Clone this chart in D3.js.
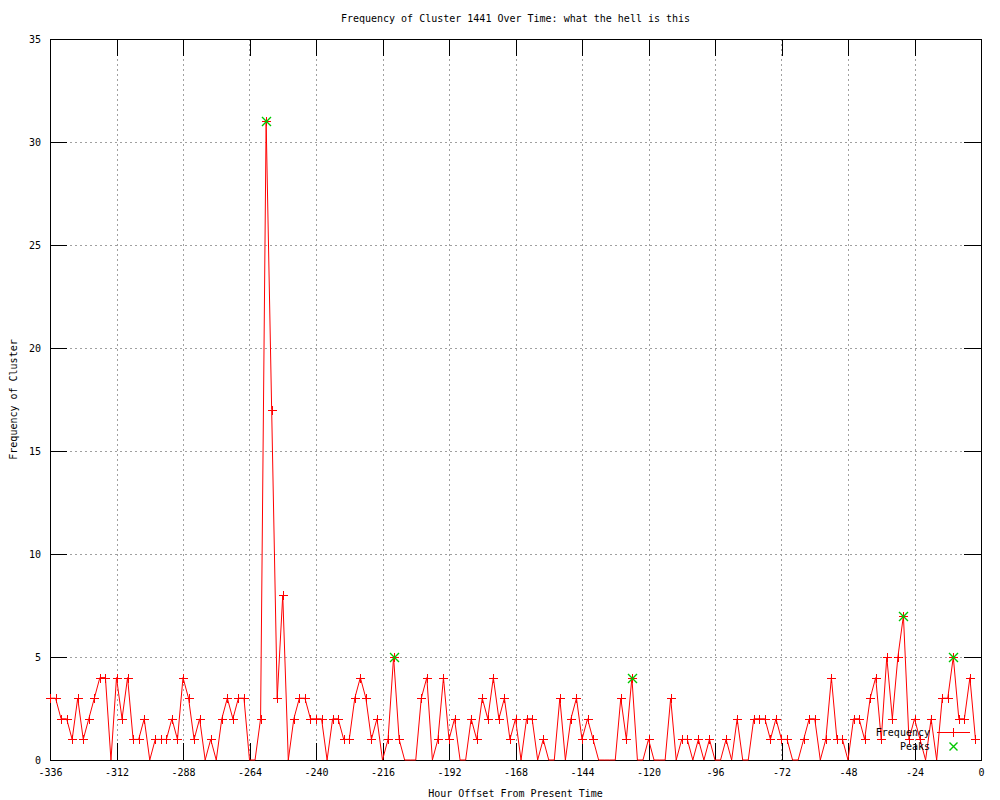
<!DOCTYPE html>
<html>
<head>
<meta charset="utf-8">
<script src="https://cdn.jsdelivr.net/npm/d3@7/dist/d3.min.js"></script>
</head>
<body style="overflow: hidden; padding: 0; margin: 0; background: #fff;">
<script>

    const width = 1000;
    const height = 800;

    // hour offsets, one sample every 2 hours
    const hours = [
      -336,-334,-332,-330,-328,-326,-324,-322,-320,-318,-316,-314,-312,-310,-308,-306,-304,-302,-300,-298,
      -296,-294,-292,-290,-288,-286,-284,-282,-280,-278,-276,-274,-272,-270,-268,-266,-264,-262,-260,-258,
      -256,-254,-252,-250,-248,-246,-244,-242,-240,-238,-236,-234,-232,-230,-228,-226,-224,-222,-220,-218,
      -216,-214,-212,-210,-208,-206,-204,-202,-200,-198,-196,-194,-192,-190,-188,-186,-184,-182,-180,-178,
      -176,-174,-172,-170,-168,-166,-164,-162,-160,-158,-156,-154,-152,-150,-148,-146,-144,-142,-140,-138,
      -136,-134,-132,-130,-128,-126,-124,-122,-120,-118,-116,-114,-112,-110,-108,-106,-104,-102,-100,-98,
      -96,-94,-92,-90,-88,-86,-84,-82,-80,-78,-76,-74,-72,-70,-68,-66,-64,-62,-60,-58,
      -56,-54,-52,-50,-48,-46,-44,-42,-40,-38,-36,-34,-32,-30,-28,-26,-24,-22,-20,-18,
      -16,-14,-12,-10,-8,-6,-4,-2
    ];

    const frequency = [
      3,3,2,2,1,3,1,2,3,4,4,0,4,2,4,1,1,2,0,1,
      1,1,2,1,4,3,1,2,0,1,0,2,3,2,3,3,0,0,2,31,
      17,3,8,0,2,3,3,2,2,2,0,2,2,1,1,3,4,3,1,2,
      0,1,5,1,0,0,0,3,4,0,1,4,1,2,0,0,2,1,3,2,
      4,2,3,1,2,0,2,2,0,1,0,0,3,0,2,3,1,2,1,0,
      0,0,0,3,1,4,0,0,1,0,0,0,3,0,1,1,0,1,0,1,
      0,0,1,0,2,0,0,2,2,2,1,2,1,1,0,0,1,2,2,0,
      1,4,1,1,0,2,2,1,3,4,1,5,2,5,7,1,2,1,0,2,
      0,3,3,5,2,2,4,1
    ];

    const peakHours = [-258, -212, -126, -28, -10];
    const peakValues = [31, 5, 4, 7, 5];

    const xTicks = [-336,-312,-288,-264,-240,-216,-192,-168,-144,-120,-96,-72,-48,-24,0];
    const yTicks = [0,5,10,15,20,25,30,35];

    const title = "Frequency of Cluster 1441 Over Time: what the hell is this";
    const xTitle = "Hour Offset From Present Time";
    const yTitle = "Frequency of Cluster";

    const plotL = 50, plotR = 981, plotT = 39, plotB = 760;
    const tick = 17;
    const font = "'DejaVu Sans Mono', monospace";

    const x = d3.scaleLinear().domain([-336, 0]).range([plotL, plotR]);
    const y = d3.scaleLinear().domain([0, 35]).range([plotB, plotT]);

    const svg = d3.select("body").append("svg")
      .attr("width", width)
      .attr("height", height)
      .style("font-family", font)
      .style("font-size", "10px");

    const data = hours.map((h, i) => ({h: h, v: frequency[i]}));
    const peaks = peakHours.map((h, i) => ({h: h, v: peakValues[i]}));

    // dotted grid
    const grid = svg.append("g")
      .attr("stroke", "#a0a0a0")
      .attr("stroke-dasharray", "2,3")
      .attr("shape-rendering", "crispEdges");
    grid.selectAll(".gx")
      .data(xTicks.slice(1, -1))
      .enter().append("line")
      .attr("x1", d => Math.round(x(d)) + 0.5).attr("x2", d => Math.round(x(d)) + 0.5)
      .attr("y1", plotT).attr("y2", plotB);
    grid.selectAll(".gy")
      .data(yTicks.slice(1, -1))
      .enter().append("line")
      .attr("y1", d => Math.round(y(d)) + 0.5).attr("y2", d => Math.round(y(d)) + 0.5)
      .attr("x1", plotL).attr("x2", plotR);

    // axes, ticks point inwards like gnuplot, mirrored on top/right
    const fmt = d => String(d).replace("\u2212", "-");

    const axB = svg.append("g")
      .attr("transform", `translate(0,${plotB})`)
      .call(d3.axisBottom(x).tickValues(xTicks).tickFormat(fmt).tickSizeInner(-tick).tickSizeOuter(0).tickPadding(9));
    const axT = svg.append("g")
      .attr("transform", `translate(0,${plotT})`)
      .call(d3.axisTop(x).tickValues(xTicks).tickFormat("").tickSizeInner(-tick).tickSizeOuter(0));
    const axL = svg.append("g")
      .attr("transform", `translate(${plotL},0)`)
      .call(d3.axisLeft(y).tickValues(yTicks).tickSizeInner(-tick).tickSizeOuter(0).tickPadding(9));
    const axR = svg.append("g")
      .attr("transform", `translate(${plotR},0)`)
      .call(d3.axisRight(y).tickValues(yTicks).tickFormat("").tickSizeInner(-tick).tickSizeOuter(0));

    [axB, axT, axL, axR].forEach(a => {
      a.attr("font-family", font).attr("font-size", 10);
      a.select(".domain").remove();
      a.selectAll("line").attr("stroke", "#000").attr("shape-rendering", "crispEdges");
      a.selectAll("text").attr("fill", "#000");
    });

    // border
    svg.append("rect")
      .attr("x", plotL + 0.5).attr("y", plotT + 0.5)
      .attr("width", plotR - plotL).attr("height", plotB - plotT)
      .attr("fill", "none").attr("stroke", "#000")
      .attr("shape-rendering", "crispEdges");

    // frequency line
    const line = d3.line().x(d => x(d.h)).y(d => y(d.v));
    svg.append("path")
      .datum(data)
      .attr("d", line)
      .attr("fill", "none")
      .attr("stroke", "#ff0000")
      .attr("stroke-width", 1);

    function plus(g, cx, cy, s) {
      g.append("path")
        .attr("d", `M${cx - s},${cy}H${cx + s}M${cx},${cy - s}V${cy + s}`)
        .attr("stroke", "#ff0000").attr("fill", "none")
        .attr("shape-rendering", "crispEdges");
    }
    function cross(g, cx, cy, s) {
      g.append("path")
        .attr("d", `M${cx - s},${cy - s}L${cx + s},${cy + s}M${cx - s},${cy + s}L${cx + s},${cy - s}`)
        .attr("stroke", "#00c800").attr("stroke-width", 1.4).attr("fill", "none");
    }

    // markers (points sitting on the border are clipped by gnuplot)
    const marks = svg.append("g");
    data.filter(d => d.v > 0).forEach(d => plus(marks, Math.round(x(d.h)) + 0.5, Math.round(y(d.v)) + 0.5, 4.5));
    peaks.forEach(d => cross(marks, Math.round(x(d.h)) + 0.5, Math.round(y(d.v)) + 0.5, 4.5));

    // legend
    const lg = svg.append("g");
    lg.append("text").attr("x", 930).attr("y", 736).attr("text-anchor", "end").text("Frequency");
    lg.append("line").attr("x1", 937).attr("x2", 970).attr("y1", 732.5).attr("y2", 732.5)
      .attr("stroke", "#ff0000").attr("shape-rendering", "crispEdges");
    plus(lg, 953.5, 732.5, 4.5);
    lg.append("text").attr("x", 930).attr("y", 750).attr("text-anchor", "end").text("Peaks");
    cross(lg, 953.5, 746.5, 4);

    // titles
    svg.append("text")
      .attr("x", (plotL + plotR) / 2).attr("y", 22)
      .attr("text-anchor", "middle")
      .text(title);
    svg.append("text")
      .attr("x", (plotL + plotR) / 2).attr("y", 797)
      .attr("text-anchor", "middle")
      .text(xTitle);
    svg.append("text")
      .attr("transform", `translate(17,${(plotT + plotB) / 2}) rotate(-90)`)
      .attr("text-anchor", "middle")
      .text(yTitle);

</script>
</body>
</html>
